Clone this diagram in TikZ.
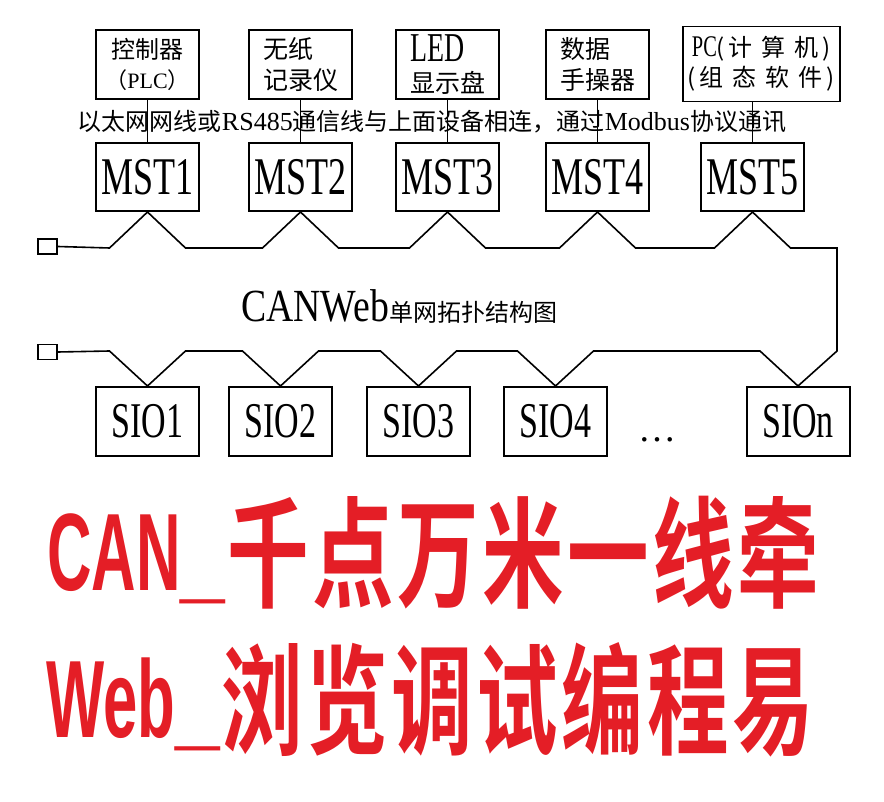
\documentclass[tikz,border=0pt]{standalone}
\usepackage{fontspec}
\usepackage{xcolor}
\setmainfont{Liberation Serif}
\newfontfamily\cjk{Noto Sans CJK SC}
\newfontfamily\latn[FakeStretch=0.68]{Liberation Serif}
\newfontfamily\latw[FakeStretch=0.82]{Liberation Serif}
\newfontfamily\sloganlat[FakeStretch=0.56]{Liberation Sans Bold}
\newfontfamily\slogancjk[FakeStretch=0.68]{Noto Sans CJK SC Bold}
\usetikzlibrary{positioning,calc}
\definecolor{sloganred}{RGB}{228,30,38}
\newcommand{\pxsize}[2]{\fontsize{#1}{#2}\selectfont}
\newcommand{\wideus}{\scalebox{1.3}[1]{\_}}

\begin{document}
\begin{tikzpicture}[
    x=1pt, y=-1pt,
    box/.style={rectangle, draw, line width=2pt, minimum width=103pt, minimum height=68pt, inner sep=0pt, align=center},
    dev/.style={box, minimum height=69pt, font=\cjk\pxsize{25}{31}},
    mst/.style={box, font=\latn\pxsize{53}{53}},
    sio/.style={box, minimum height=69pt, font=\latn\pxsize{50}{50}},
    term/.style={rectangle, draw, line width=1.5pt, minimum width=19pt, minimum height=15pt, inner sep=0pt},
    bus/.style={line width=1.6pt},
    link/.style={line width=1.4pt},
    slogan/.style={anchor=base west, inner sep=0pt, text=sloganred}
]
    \useasboundingbox (0,0) rectangle (884,802);

    % master stations
    \node[mst] (mst1) at (147.5,177) {MST1};
    \node[mst, right=48pt of mst1] (mst2) {MST2};
    \node[mst, right=42pt of mst2] (mst3) {MST3};
    \node[mst, right=45pt of mst3] (mst4) {MST4};
    \node[mst, right=50pt of mst4] (mst5) {MST5};

    % devices on top
    \node[dev, font=\cjk\pxsize{24}{30}, above=42pt of mst1] (plc) {控制器\\{\rmfamily\pxsize{22}{30}{\cjk （}PLC{\cjk ）}}};
    \node[dev, align=left, above=42pt of mst2] (recorder) {无纸\\记录仪};
    \node[dev, align=left, above=42pt of mst3] (led) {{\latn\pxsize{41}{31}LED}\\显示盘};
    \node[dev, align=left, above=42pt of mst4] (pad) {数据\\手操器};
    \node[dev, line width=1.2pt, minimum width=157pt, minimum height=75pt, above=40pt of mst5, xshift=9pt, font=\cjk\pxsize{24}{30}] (pc)
        {{\latn\pxsize{30}{30}PC}(\,计\hspace{9pt}算\hspace{9pt}机\,)\\(\,组\hspace{9pt}态\hspace{9pt}软\hspace{9pt}件\,)};

    \foreach \d/\m in {plc/mst1, recorder/mst2, led/mst3, pad/mst4}
        \draw[link] (\d) -- (\m);
    \draw[link] (mst5.north) -- (mst5.north |- pc.south);

    \node[font=\cjk\pxsize{24}{24}, inner sep=0pt] (note) at (432,122)
        {以太网网线或{\rmfamily\pxsize{26}{26}RS485}通信线与上面设备相连，通过{\rmfamily\pxsize{26}{26}Modbus}协议通讯};

    % slave stations
    \node[sio] (sio1) at (147.5,421.5) {SIO1};
    \node[sio, right=28pt of sio1] (sio2) {SIO2};
    \node[sio, right=33pt of sio2] (sio3) {SIO3};
    \node[sio, right=32pt of sio3] (sio4) {SIO4};
    \node[sio] (sion) at (798,421.5) {SIOn};
    \node[font=\rmfamily\pxsize{38}{38}, anchor=base, inner sep=0pt] (dots) at (657,441) {\dots};

    % bus
    \node[term] (termT) at (47.5,246.5) {};
    \node[term] (termB) at (47.5,352) {};
    \draw[bus] (termT.east)
        \foreach \m in {mst1,mst2,mst3,mst4,mst5} { -- ($(\m.south)+(-38,36)$) -- (\m.south) -- ($(\m.south)+(38,36)$) }
        -| ($(sion.north)+(39,-35)$) -- (sion.north);
    \draw[bus] (termB.east)
        \foreach \s in {sio1,sio2,sio3,sio4} { -- ($(\s.north)+(-38,-35)$) -- (\s.north) -- ($(\s.north)+(38,-35)$) }
        -- ($(sion.north)+(-38,-35)$) -- (sion.north);

    \node[anchor=base west, inner sep=0pt] (title) at (241,322) {{\latw\pxsize{46}{46}CANWeb}{\cjk\pxsize{24}{24}单网拓扑结构图}};

    % slogans
    \node[slogan] (slogan1) at (47,590) {{\sloganlat\pxsize{110}{110}CAN\wideus}\hspace{2pt}{\slogancjk\pxsize{120}{120}\raisebox{-8pt}{千\hspace{3.5pt}点\hspace{3.5pt}万\hspace{3.5pt}米\hspace{3.5pt}一\hspace{3.5pt}线\hspace{3.5pt}牵}}};
    \node[slogan] (slogan2) at (46,737) {{\sloganlat\pxsize{110}{110}Web\wideus}\hspace{2pt}{\slogancjk\pxsize{120}{120}\raisebox{-8pt}{浏\hspace{3.5pt}览\hspace{3.5pt}调\hspace{3.5pt}试\hspace{3.5pt}编\hspace{3.5pt}程\hspace{3.5pt}易}}};
\end{tikzpicture}
\end{document}
